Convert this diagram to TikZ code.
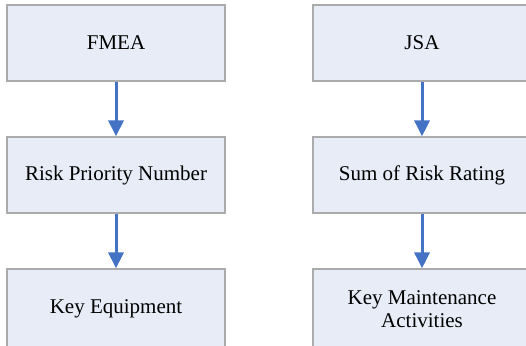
\documentclass[tikz,border=0pt]{standalone}
\usepackage{fontspec}
\setmainfont{Liberation Serif}
\usetikzlibrary{arrows.meta}

\definecolor{boxfill}{HTML}{E7ECF6}
\definecolor{boxline}{HTML}{ABABAB}
\definecolor{arrowblue}{HTML}{4472C4}

\begin{document}
\begin{tikzpicture}[x=1pt, y=1pt,
    block/.style={rectangle, draw=boxline, line width=1.2pt, fill=boxfill,
        minimum width=218pt, minimum height=76pt, align=center,
        font=\fontsize{21}{23}\selectfont},
    link/.style={draw=arrowblue, line width=3pt,
        -{Triangle[length=16pt, width=15pt]}}]
    \useasboundingbox (0, 0) rectangle (526, -345);
    \clip (0, 0) rectangle (526, -345);

    \node at (116, -43) [block] (fmea) {FMEA};
    \node at (116, -175) [block] (rpn) {Risk Priority Number};
    \node at (116, -309) [block, minimum height=80pt] (equip) {Key Equipment};

    \node at (422, -43) [block] (jsa) {JSA};
    \node at (422, -175) [block] (rating) {Sum of Risk Rating};
    \node at (422, -309) [block, minimum height=80pt] (activ) {Key Maintenance\\Activities};

    \draw [link] (fmea.south) -- (rpn.north);
    \draw [link] (rpn.south) -- (equip.north);
    \draw [link] (jsa.south) -- (rating.north);
    \draw [link] (rating.south) -- (activ.north);
\end{tikzpicture}
\end{document}
